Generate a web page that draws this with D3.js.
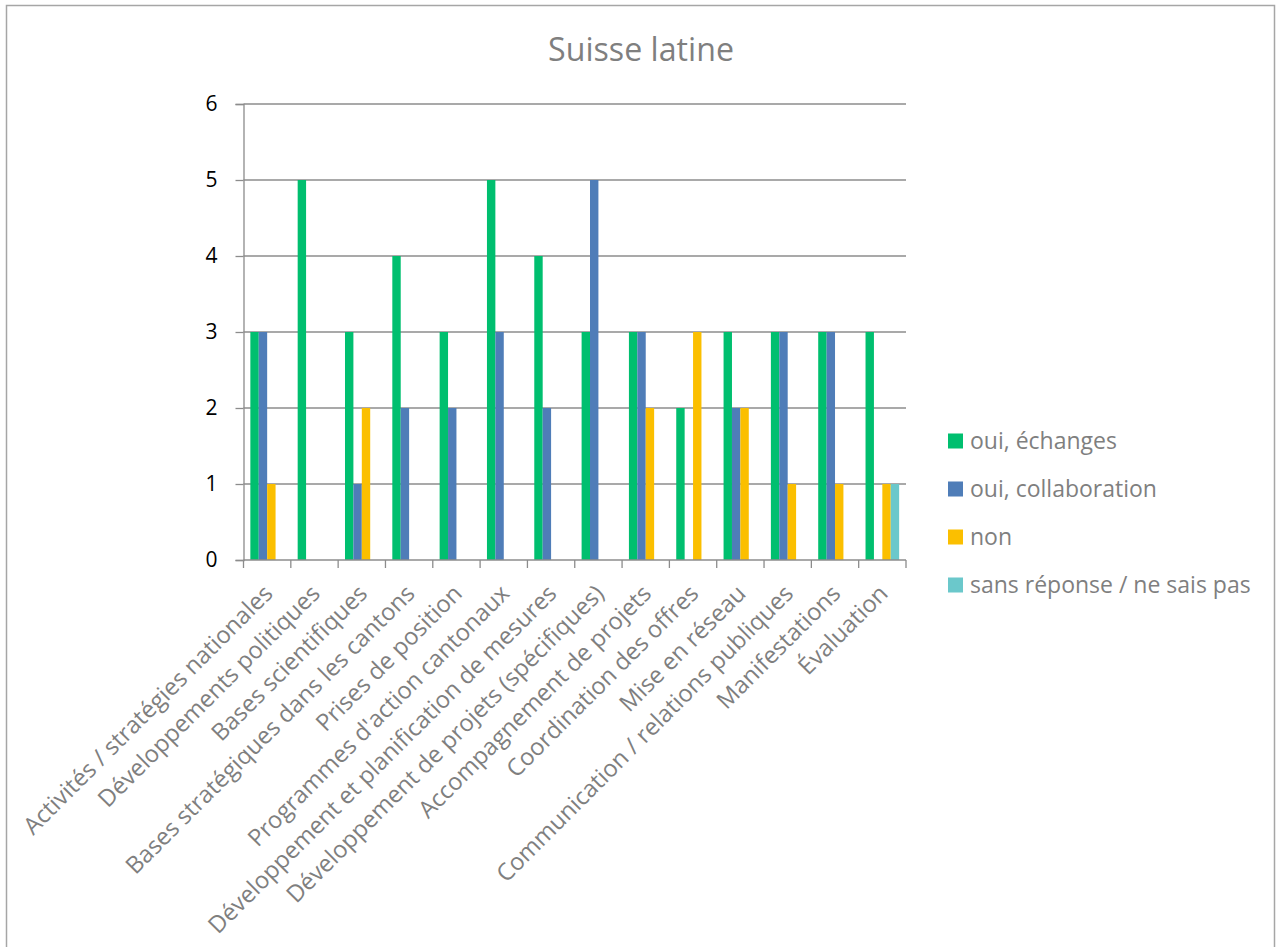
<!DOCTYPE html>
<html>
<head>
<meta charset="utf-8">
<script src="https://cdn.jsdelivr.net/npm/d3@7/dist/d3.min.js"></script>
<style>
  html, body { margin: 0; padding: 0; background: #fff; }
  svg { display: block; }
  text { font-family: "Open Sans", Lato, sans-serif; }
</style>
</head>
<body>
<svg id="chart" width="1282" height="947"></svg>
<script>
// Survey answers per activity field, Suisse latine
const categories = [
  "Activités / stratégies nationales",
  "Développements politiques",
  "Bases scientifiques",
  "Bases stratégiques dans les cantons",
  "Prises de position",
  "Programmes d'action cantonaux",
  "Développement et planification de mesures",
  "Développement de projets (spécifiques)",
  "Accompagnement de projets",
  "Coordination des offres",
  "Mise en réseau",
  "Communication / relations publiques",
  "Manifestations",
  "Évaluation"
];
const seriesNames = ["oui, échanges", "oui, collaboration", "non", "sans réponse / ne sais pas"];
const ouiEchanges      = [3, 5, 3, 4, 3, 5, 4, 3, 3, 2, 3, 3, 3, 3];
const ouiCollaboration = [3, 0, 1, 2, 2, 3, 2, 5, 3, 0, 2, 3, 3, 0];
const non              = [1, 0, 2, 0, 0, 0, 0, 0, 2, 3, 2, 1, 1, 1];
const sansReponse      = [0, 0, 0, 0, 0, 0, 0, 0, 0, 0, 0, 0, 0, 1];
const yTicks = [0, 1, 2, 3, 4, 5, 6];
const seriesColors = ["#00BF6F", "#4F7DB8", "#FBBF00", "#6BC8CB"];

const seriesValues = [ouiEchanges, ouiCollaboration, non, sansReponse];

const svg = d3.select("#chart");

// pick a font size so that a sample string spans the wanted width
function fitSize(sample, width, weight) {
  const t = svg.append("text").attr("font-size", 100).attr("font-weight", weight || 400).text(sample);
  const w = t.node().getComputedTextLength();
  t.remove();
  return 100 * width / w;
}
const titleSize = fitSize("Suisse latine", 186, 400);
const catSize = fitSize("Activités / stratégies nationales", 341, 400);
const legendSize = fitSize("oui, échanges", 147, 400);

// outer chart frame
svg.append("rect")
  .attr("x", 6.5).attr("y", 5.5)
  .attr("width", 1268).attr("height", 960)
  .attr("fill", "none").attr("stroke", "#a6a6a6").attr("stroke-width", 1.5);

const plot = { left: 243.5, right: 906, top: 104, bottom: 560 };

const x0 = d3.scaleBand().domain(categories).range([plot.left, plot.right]).paddingInner(0).paddingOuter(0);
const x1 = d3.scaleBand().domain(seriesNames).range([0, x0.bandwidth()]).paddingInner(0).paddingOuter(0.815);
const y = d3.scaleLinear().domain([0, 6]).range([plot.bottom, plot.top]);

// title
svg.append("text")
  .attr("x", 641).attr("y", 61)
  .attr("text-anchor", "middle")
  .attr("font-size", titleSize)
  .attr("fill", "#7f7f7f")
  .text("Suisse latine");

// horizontal gridlines
svg.append("g")
  .selectAll("line")
  .data(yTicks.filter(d => d > 0))
  .join("line")
  .attr("x1", plot.left).attr("x2", plot.right)
  .attr("y1", d => y(d)).attr("y2", d => y(d))
  .attr("stroke", "#8c8c8c").attr("stroke-width", 1.3);

// bars
const groups = svg.append("g")
  .selectAll("g")
  .data(categories.map((c, i) => ({ c, vals: seriesValues.map((s, k) => ({ name: seriesNames[k], v: s[i], k })) })))
  .join("g")
  .attr("transform", d => `translate(${x0(d.c)},0)`);

groups.selectAll("rect")
  .data(d => d.vals.filter(v => v.v > 0))
  .join("rect")
  .attr("x", d => x1(d.name))
  .attr("width", x1.bandwidth())
  .attr("y", d => y(d.v))
  .attr("height", d => y(0) - y(d.v))
  .attr("fill", d => seriesColors[d.k]);

// y axis
const yAxis = svg.append("g")
  .attr("transform", `translate(${plot.left},0)`)
  .call(d3.axisLeft(y).tickValues(yTicks).tickFormat(d3.format("d")).tickSize(8).tickPadding(18));
yAxis.select(".domain").attr("stroke", "#8c8c8c").attr("stroke-width", 1.3);
yAxis.selectAll(".tick line").attr("stroke", "#8c8c8c").attr("stroke-width", 1.3);
yAxis.selectAll(".tick text")
  .attr("font-size", 21).attr("fill", "#000")
  .style("font-family", "'Open Sans', Lato, sans-serif");

// x axis
const xAxis = svg.append("g")
  .attr("transform", `translate(0,${plot.bottom})`);
xAxis.append("line")
  .attr("x1", plot.left).attr("x2", plot.right)
  .attr("y1", 0).attr("y2", 0)
  .attr("stroke", "#8c8c8c").attr("stroke-width", 1.3);
const bandEdges = categories.map(c => x0(c)).concat([plot.right]);
xAxis.selectAll("line.tk")
  .data(bandEdges)
  .join("line")
  .attr("class", "tk")
  .attr("x1", d => d).attr("x2", d => d)
  .attr("y1", 0).attr("y2", 8)
  .attr("stroke", "#8c8c8c").attr("stroke-width", 1.3);

xAxis.selectAll("text.cat")
  .data(categories)
  .join("text")
  .attr("class", "cat")
  .attr("transform", d => `translate(${x0(d) + x0.bandwidth() / 2 + 7},${35}) rotate(-45)`)
  .attr("text-anchor", "end")
  .attr("font-size", catSize)
  .attr("fill", "#7f7f7f")
  .text(d => d);

// legend
const legend = svg.append("g").attr("transform", "translate(948,441)");
const li = legend.selectAll("g")
  .data(seriesNames)
  .join("g")
  .attr("transform", (d, i) => `translate(0,${i * 48})`);
li.append("rect")
  .attr("x", 0).attr("y", -7.5)
  .attr("width", 15).attr("height", 15)
  .attr("fill", (d, i) => seriesColors[i]);
li.append("text")
  .attr("x", 22).attr("y", 0)
  .attr("dy", "0.35em")
  .attr("font-size", legendSize)
  .attr("fill", "#7f7f7f")
  .text(d => d);
</script>
</body>
</html>
